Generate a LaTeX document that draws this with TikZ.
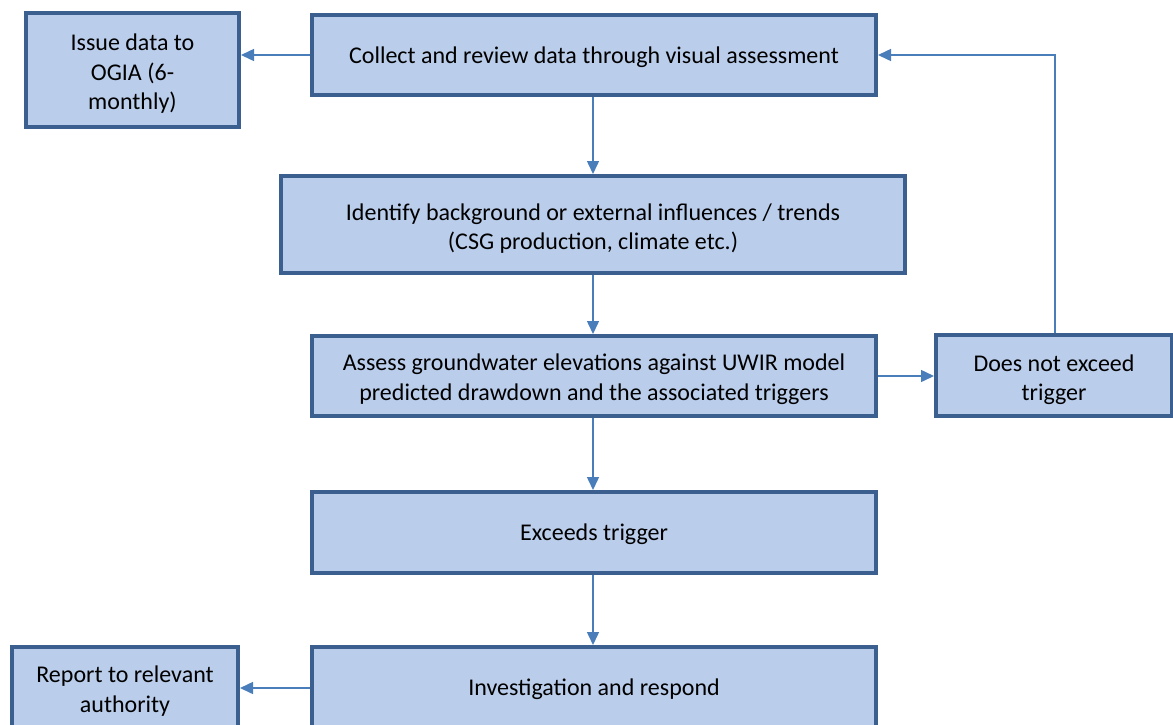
\documentclass[tikz,border=0pt]{standalone}
\usepackage{fontspec}
\setmainfont{Carlito}
\usetikzlibrary{arrows.meta}
\definecolor{boxfill}{HTML}{BACDEB}
\definecolor{boxline}{HTML}{3B5F8F}
\definecolor{arr}{HTML}{4A7EBB}
\tikzset{
  flowbox/.style={draw=boxline, line width=4pt, fill=boxfill, inner sep=0pt},
  boxtext/.style={inner sep=0pt, align=center, font=\fontsize{24}{29.5}\selectfont},
  conn/.style={draw=arr, line width=1.5pt, -{Triangle[length=13pt,width=12pt]}}
}
\begin{document}
\begin{tikzpicture}[x=1pt,y=-1pt]
\useasboundingbox (0,0) rectangle (1173,724);
\clip (0,0) rectangle (1173,724);
\node[flowbox, minimum width=213pt, minimum height=114pt] (iss) at (132.5,70) {};
\node[flowbox, minimum width=564pt, minimum height=80pt] (col) at (594,55) {};
\node[flowbox, minimum width=624pt, minimum height=97pt] (ide) at (593,224.5) {};
\node[flowbox, minimum width=564pt, minimum height=80pt] (ass) at (594,376) {};
\node[flowbox, minimum width=236pt, minimum height=81pt] (dne) at (1054,375.5) {};
\node[flowbox, minimum width=564pt, minimum height=81pt] (exc) at (594,532.5) {};
\node[flowbox, minimum width=564pt, minimum height=82pt] (inv) at (594,688) {};
\node[flowbox, minimum width=226pt, minimum height=82pt] (rep) at (125,688) {};
\node[boxtext] (isst) at ([yshift=-4pt]iss.center) {Issue data to\\OGIA (6-\\monthly)};
\node[boxtext] (colt) at ([yshift=-2pt]col.center) {Collect and review data through visual assessment};
\node[boxtext] (idet) at ([yshift=-4pt]ide.center) {Identify background or external influences / trends\\(CSG production, climate etc.)};
\node[boxtext] (asst) at ([yshift=-3pt]ass.center) {Assess groundwater elevations against UWIR model\\predicted drawdown and the associated triggers};
\node[boxtext] (dnet) at ([yshift=-4pt]dne.center) {Does not exceed\\trigger};
\node[boxtext] (exct) at ([yshift=-2pt]exc.center) {Exceeds trigger};
\node[boxtext] (invt) at ([yshift=-1pt]inv.center) {Investigation and respond};
\node[boxtext] (rept) at ([yshift=-3pt]rep.center) {Report to relevant\\authority};
\draw[conn] (col.west) -- (iss.east |- col.west);
\draw[conn] (col.south -| 593,0) -- (ide.north -| 593,0);
\draw[conn] (ide.south -| 593,0) -- (ass.north -| 593,0);
\draw[conn] (ass.east) -- (dne.west |- ass.east);
\draw[conn] (dne.north -| 1055,0) |- (col.east);
\draw[conn] (ass.south -| 593,0) -- (exc.north -| 593,0);
\draw[conn] (exc.south -| 593,0) -- (inv.north -| 593,0);
\draw[conn] (inv.west) -- (rep.east |- inv.west);
\end{tikzpicture}
\end{document}
